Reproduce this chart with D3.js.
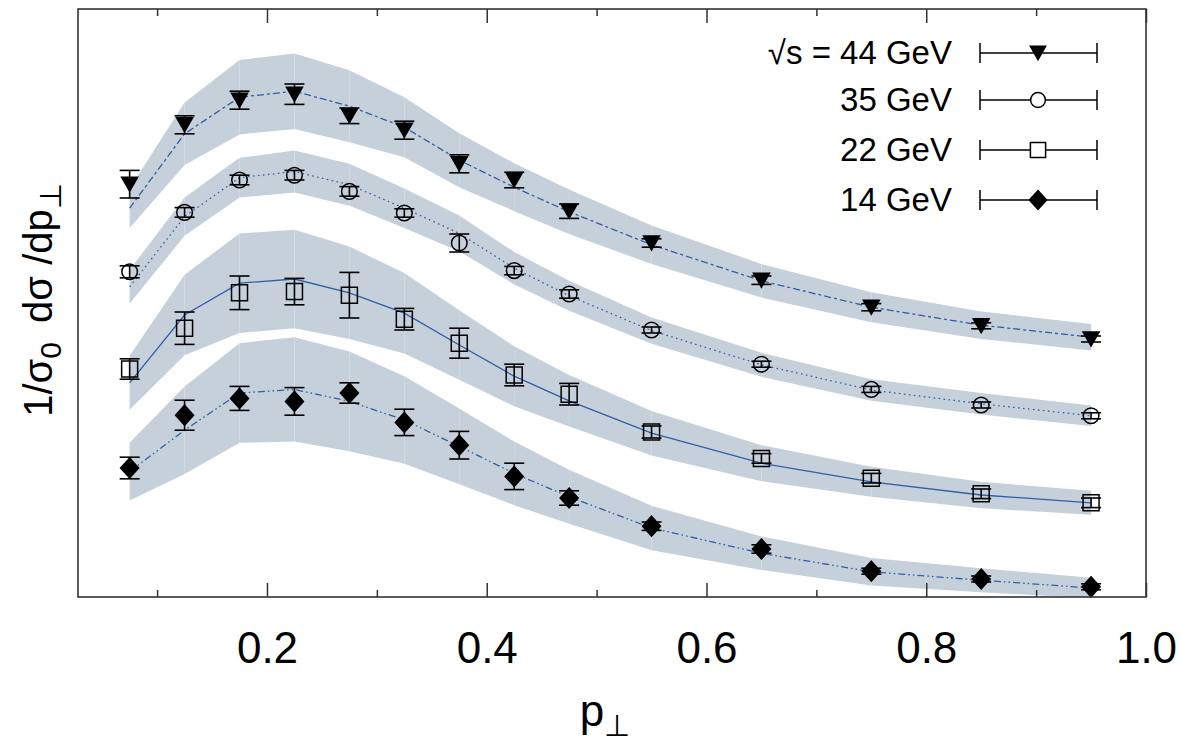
<!DOCTYPE html>
<html>
<head>
<meta charset="utf-8">
<script src="https://cdn.jsdelivr.net/npm/d3@7/dist/d3.min.js"></script>
<style>
  html, body { margin: 0; padding: 0; background: #fff; }
  svg { display: block; font-family: "Liberation Sans", Arial, sans-serif; }
</style>
</head>
<body>
<svg id="chart" width="1181" height="746"></svg>
<script>
// ---------------- data (arbitrary units on y) ----------------
const pt = [0.075, 0.125, 0.175, 0.225, 0.275, 0.325, 0.375, 0.425, 0.475, 0.55, 0.65, 0.75, 0.85, 0.95];

const majorTicks = [0.2, 0.4, 0.6, 0.8, 1.0];
const minorTicks = [0.1, 0.3, 0.5, 0.7, 0.9];

const labels = ["\u221As = 44 GeV", "35 GeV", "22 GeV", "14 GeV"];

// 44 GeV
const data44 = [68.8, 78.7, 82.8, 83.8, 80.2, 77.8, 72.2, 69.5, 64.3, 59.0, 52.8, 48.3, 45.2, 43.0];
const err44  = [2.3, 1.5, 1.5, 1.7, 1.3, 1.5, 1.5, 1.3, 1.2, 0.7, 0.7, 0.6, 0.5, 0.5];
const model44 = [64.8, 77.2, 83.3, 84.3, 81.8, 78.3, 72.8, 68.3, 64.2, 58.7, 52.7, 48.3, 45.3, 43.3];
const band44  = [3.3, 5.2, 6.2, 6.3, 6.0, 5.0, 4.5, 4.0, 3.7, 3.2, 2.8, 2.5, 2.3, 2.2];

// 35 GeV
const data35 = [54.2, 64.1, 69.5, 70.3, 67.6, 64.0, 59.0, 54.4, 50.5, 44.5, 38.8, 34.6, 32.0, 30.2];
const err35  = [1.0, 0.8, 0.8, 0.8, 0.8, 0.7, 1.5, 0.7, 0.7, 0.5, 0.5, 0.5, 0.5, 0.5];
const model35 = [51.7, 63.4, 69.9, 70.9, 68.7, 64.8, 60.6, 54.8, 50.2, 44.4, 38.7, 34.5, 32.2, 30.2];
const band35  = [2.8, 3.2, 3.3, 3.5, 3.5, 3.3, 3.0, 2.7, 2.5, 2.2, 2.0, 1.8, 1.8, 1.7];

// 22 GeV
const data22 = [38.0, 44.8, 50.7, 50.9, 50.3, 46.3, 42.3, 37.0, 33.8, 27.5, 23.1, 19.8, 17.2, 15.7];
const err22  = [1.7, 2.7, 2.8, 2.2, 3.8, 1.8, 2.5, 1.8, 1.8, 1.0, 0.8, 0.8, 0.8, 0.8];
const model22 = [35.7, 47.0, 52.3, 53.0, 50.7, 47.3, 42.0, 36.8, 32.7, 27.3, 22.3, 19.2, 17.0, 15.7];
const band22  = [4.5, 6.7, 8.3, 8.2, 7.7, 6.7, 5.8, 5.0, 4.3, 3.7, 3.0, 2.5, 2.2, 2.0];

// 14 GeV
const data14 = [21.5, 30.3, 33.1, 32.6, 34.0, 29.1, 25.3, 20.1, 16.5, 11.8, 8.0, 4.3, 3.0, 1.7];
const err14  = [1.8, 2.5, 2.0, 2.3, 1.7, 2.2, 2.3, 2.2, 1.2, 0.7, 0.7, 0.5, 0.5, 0.5];
const model14 = [20.9, 27.8, 34.0, 34.6, 32.6, 29.5, 25.1, 20.6, 16.7, 11.5, 7.3, 4.2, 2.8, 1.5];
const band14  = [4.8, 7.3, 8.3, 8.7, 8.3, 7.3, 6.3, 5.3, 4.5, 3.7, 2.8, 2.3, 2.0, 1.7];

const series = [
  { label: labels[0], data: data44, err: err44, model: model44, band: band44, marker: "tri",     dash: "7,3,3,3" },
  { label: labels[1], data: data35, err: err35, model: model35, band: band35, marker: "circle",  dash: "1.6,3.4" },
  { label: labels[2], data: data22, err: err22, model: model22, band: band22, marker: "square",  dash: null },
  { label: labels[3], data: data14, err: err14, model: model14, band: band14, marker: "diamond", dash: "7,3,1.6,3,1.6,3" }
];

// ---------------- layout ----------------
const L = 78, R = 1146, T = 9, B = 597;
const svg = d3.select("#chart");
const x = d3.scaleLinear().domain([0.028, 1.0]).range([L, R]);
const y = d3.scaleLinear().domain([0, 98]).range([B, T]);

const bandColor = "#c5d0db";
const lineColor = "#2f5fa8";

svg.append("defs").append("clipPath").attr("id", "clip")
  .append("rect").attr("x", L).attr("y", T).attr("width", R - L).attr("height", B - T);

const plot = svg.append("g").attr("clip-path", "url(#clip)");

function markerPath(type, s) {
  if (type === "tri") {
    return `M${-8*s},${-7*s}L${8*s},${-7*s}L0,${7*s}Z`;
  } else if (type === "square") {
    return `M${-8*s},${-8*s}H${8*s}V${8*s}H${-8*s}Z`;
  } else if (type === "diamond") {
    return `M0,${-10*s}L${9*s},0L0,${10*s}L${-9*s},0Z`;
  }
  return d3.arc()({innerRadius: 0, outerRadius: 7.8*s, startAngle: 0, endAngle: 2*Math.PI});
}
function markerFill(type) { return (type === "tri" || type === "diamond") ? "#000" : "none"; }

// bands (per-segment quads)
series.forEach(s => {
  for (let i = 0; i < pt.length - 1; i++) {
    const seg = [i, i + 1];
    const area = d3.area()
      .x(j => x(pt[j]))
      .y0(j => y(s.model[j] - s.band[j]))
      .y1(j => y(s.model[j] + s.band[j]));
    plot.append("path").attr("d", area(seg)).attr("fill", bandColor).attr("stroke", "none");
  }
});

// model lines
series.forEach(s => {
  const line = d3.line().x((d, i) => x(pt[i])).y(d => y(d));
  plot.append("path").attr("d", line(s.model))
    .attr("fill", "none").attr("stroke", lineColor).attr("stroke-width", 1.3)
    .attr("stroke-dasharray", s.dash);
});

// error bars + markers
series.forEach(s => {
  const g = svg.append("g");
  s.data.forEach((v, i) => {
    const cx = x(pt[i]);
    const y0 = y(v - s.err[i]), y1 = y(v + s.err[i]);
    g.append("line").attr("x1", cx).attr("x2", cx).attr("y1", y0).attr("y2", y1)
      .attr("stroke", "#000").attr("stroke-width", 1.6);
    [y0, y1].forEach(yy => g.append("line").attr("x1", cx - 10).attr("x2", cx + 10)
      .attr("y1", yy).attr("y2", yy).attr("stroke", "#000").attr("stroke-width", 1.6));
    g.append("path").attr("d", markerPath(s.marker, 1))
      .attr("transform", `translate(${cx},${y(v)})`)
      .attr("fill", markerFill(s.marker)).attr("stroke", "#000").attr("stroke-width", 1.5);
  });
});

// ---------------- axes ----------------
const axisG = svg.append("g").attr("class", "axes");
const bottomMajor = d3.axisBottom(x).tickValues(majorTicks).tickSize(-14).tickPadding(35).tickFormat(d3.format(".1f"));
const bottomMinor = d3.axisBottom(x).tickValues(minorTicks).tickSize(-7).tickFormat("");
const topMajor = d3.axisTop(x).tickValues(majorTicks).tickSize(-14).tickFormat("");
const topMinor = d3.axisTop(x).tickValues(minorTicks).tickSize(-7).tickFormat("");

function styleAxis(g) {
  g.select(".domain").remove();
  g.selectAll("line").attr("stroke", "#333").attr("stroke-width", 1.5);
  g.selectAll("text").attr("fill", "#000").style("font-size", "44px")
    .style("font-family", "'Liberation Sans', Arial, sans-serif");
}
axisG.append("g").attr("transform", `translate(0,${B})`).call(bottomMajor).call(styleAxis);
axisG.append("g").attr("transform", `translate(0,${B})`).call(bottomMinor).call(styleAxis);
axisG.append("g").attr("transform", `translate(0,${T})`).call(topMajor).call(styleAxis);
axisG.append("g").attr("transform", `translate(0,${T})`).call(topMinor).call(styleAxis);

axisG.append("rect").attr("x", L).attr("y", T).attr("width", R - L).attr("height", B - T)
  .attr("fill", "none").attr("stroke", "#333").attr("stroke-width", 1.6);

// axis titles
const xt = svg.append("text").attr("x", 605).attr("y", 726).attr("text-anchor", "middle")
  .style("font-size", "44px").attr("fill", "#000");
xt.append("tspan").text("p");
xt.append("tspan").attr("dy", 10).style("font-size", "30px").text("\u22A5");

const yt = svg.append("text").attr("transform", "translate(52,300) rotate(-90)")
  .attr("text-anchor", "middle").style("font-size", "40px").attr("fill", "#000");
yt.append("tspan").text("1/\u03C3");
yt.append("tspan").attr("dy", 9).style("font-size", "30px").text("0");
yt.append("tspan").attr("dy", -9).text("\u2009 d\u03C3 /dp");
yt.append("tspan").attr("dy", 9).style("font-size", "30px").text("\u22A5");

// ---------------- legend ----------------
const legendRows = [53, 100, 150, 200];
const leg = svg.append("g");
series.forEach((s, i) => {
  const ly = legendRows[i];
  leg.append("text").attr("x", 952).attr("y", ly + 11).attr("text-anchor", "end")
    .style("font-size", "33px").attr("fill", "#000").text(s.label);
  leg.append("line").attr("x1", 980).attr("x2", 1097).attr("y1", ly).attr("y2", ly)
    .attr("stroke", "#000").attr("stroke-width", 1.5);
  [980, 1097].forEach(xx => leg.append("line").attr("x1", xx).attr("x2", xx)
    .attr("y1", ly - 10).attr("y2", ly + 10).attr("stroke", "#000").attr("stroke-width", 1.5));
  leg.append("path").attr("d", markerPath(s.marker, 0.95))
    .attr("transform", `translate(1038,${ly})`)
    .attr("fill", markerFill(s.marker) === "none" ? "#fff" : "#000")
    .attr("stroke", "#000").attr("stroke-width", 1.5);
});
</script>
</body>
</html>
